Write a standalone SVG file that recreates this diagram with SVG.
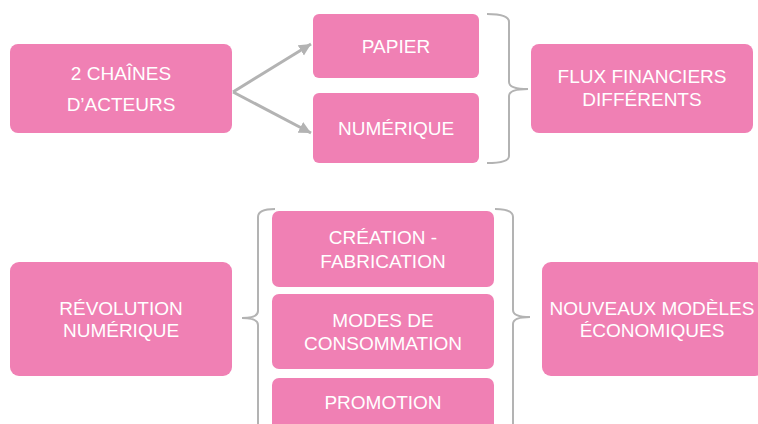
<svg xmlns="http://www.w3.org/2000/svg" width="758" height="424" viewBox="0 0 758 424">
<style>
.box{fill:#F080B4;}
.t{font-family:"Liberation Sans",Arial,sans-serif;font-size:19px;fill:#FFFFFF;text-anchor:middle;}
.br{fill:none;stroke:#B3B3B3;stroke-width:2;}
.ar{fill:none;stroke:#B3B3B3;stroke-width:3;}
</style>
<defs>
<marker id="ah" markerWidth="14" markerHeight="14" refX="12" refY="6" orient="auto" markerUnits="userSpaceOnUse">
<path d="M0,0 L12,6 L0,12 Z" fill="#B3B3B3"/>
</marker>
</defs>
<rect width="758" height="424" fill="#FFFFFF"/>
<g id="connectors">
<path class="ar" d="M233,92 L311,44" marker-end="url(#ah)"/>
<path class="ar" d="M233,92 L311,133" marker-end="url(#ah)"/>
<path class="br" d="M487,14 Q509,14 509,22 L509,82 Q509,89 528,89 Q509,89 509,96 L509,156 Q509,163 487,163"/>
<path class="br" d="M275,209 Q258,209 258,217 L258,311 Q258,318 242,318 Q258,318 258,325 L258,430"/>
<path class="br" d="M495,209 Q513,209 513,217 L513,310 Q513,317 530,317 Q513,317 513,324 L513,430"/>
</g>
<g id="n1"><rect class="box" x="10" y="44" width="222" height="89" rx="8"/>
<text class="t" x="121" y="80">2 CHAÎNES</text><text class="t" x="121" y="111">D’ACTEURS</text></g>
<g id="n2"><rect class="box" x="313" y="14" width="166" height="64" rx="6"/>
<text class="t" x="396" y="53">PAPIER</text></g>
<g id="n3"><rect class="box" x="313" y="93" width="166" height="70" rx="6"/>
<text class="t" x="396" y="135">NUMÉRIQUE</text></g>
<g id="n4"><rect class="box" x="531" y="44" width="222" height="89" rx="8"/>
<text class="t" x="642" y="83">FLUX FINANCIERS</text><text class="t" x="642" y="106">DIFFÉRENTS</text></g>
<g id="n5"><rect class="box" x="10" y="262" width="222" height="114" rx="9"/>
<text class="t" x="121" y="315">RÉVOLUTION</text><text class="t" x="121" y="337">NUMÉRIQUE</text></g>
<g id="n6"><rect class="box" x="272" y="211" width="222" height="76" rx="7"/>
<text class="t" x="383" y="244">CRÉATION -</text><text class="t" x="383" y="268">FABRICATION</text></g>
<g id="n7"><rect class="box" x="272" y="294" width="222" height="75" rx="7"/>
<text class="t" x="383" y="327">MODES DE</text><text class="t" x="383" y="350">CONSOMMATION</text></g>
<g id="n8"><rect class="box" x="272" y="378" width="222" height="60" rx="7"/>
<text class="t" x="383" y="409">PROMOTION</text></g>
<g id="n9"><rect class="box" x="542" y="262" width="222" height="114" rx="9"/>
<text class="t" x="652" y="315">NOUVEAUX MODÈLES</text><text class="t" x="652" y="337">ÉCONOMIQUES</text></g>
</svg>
